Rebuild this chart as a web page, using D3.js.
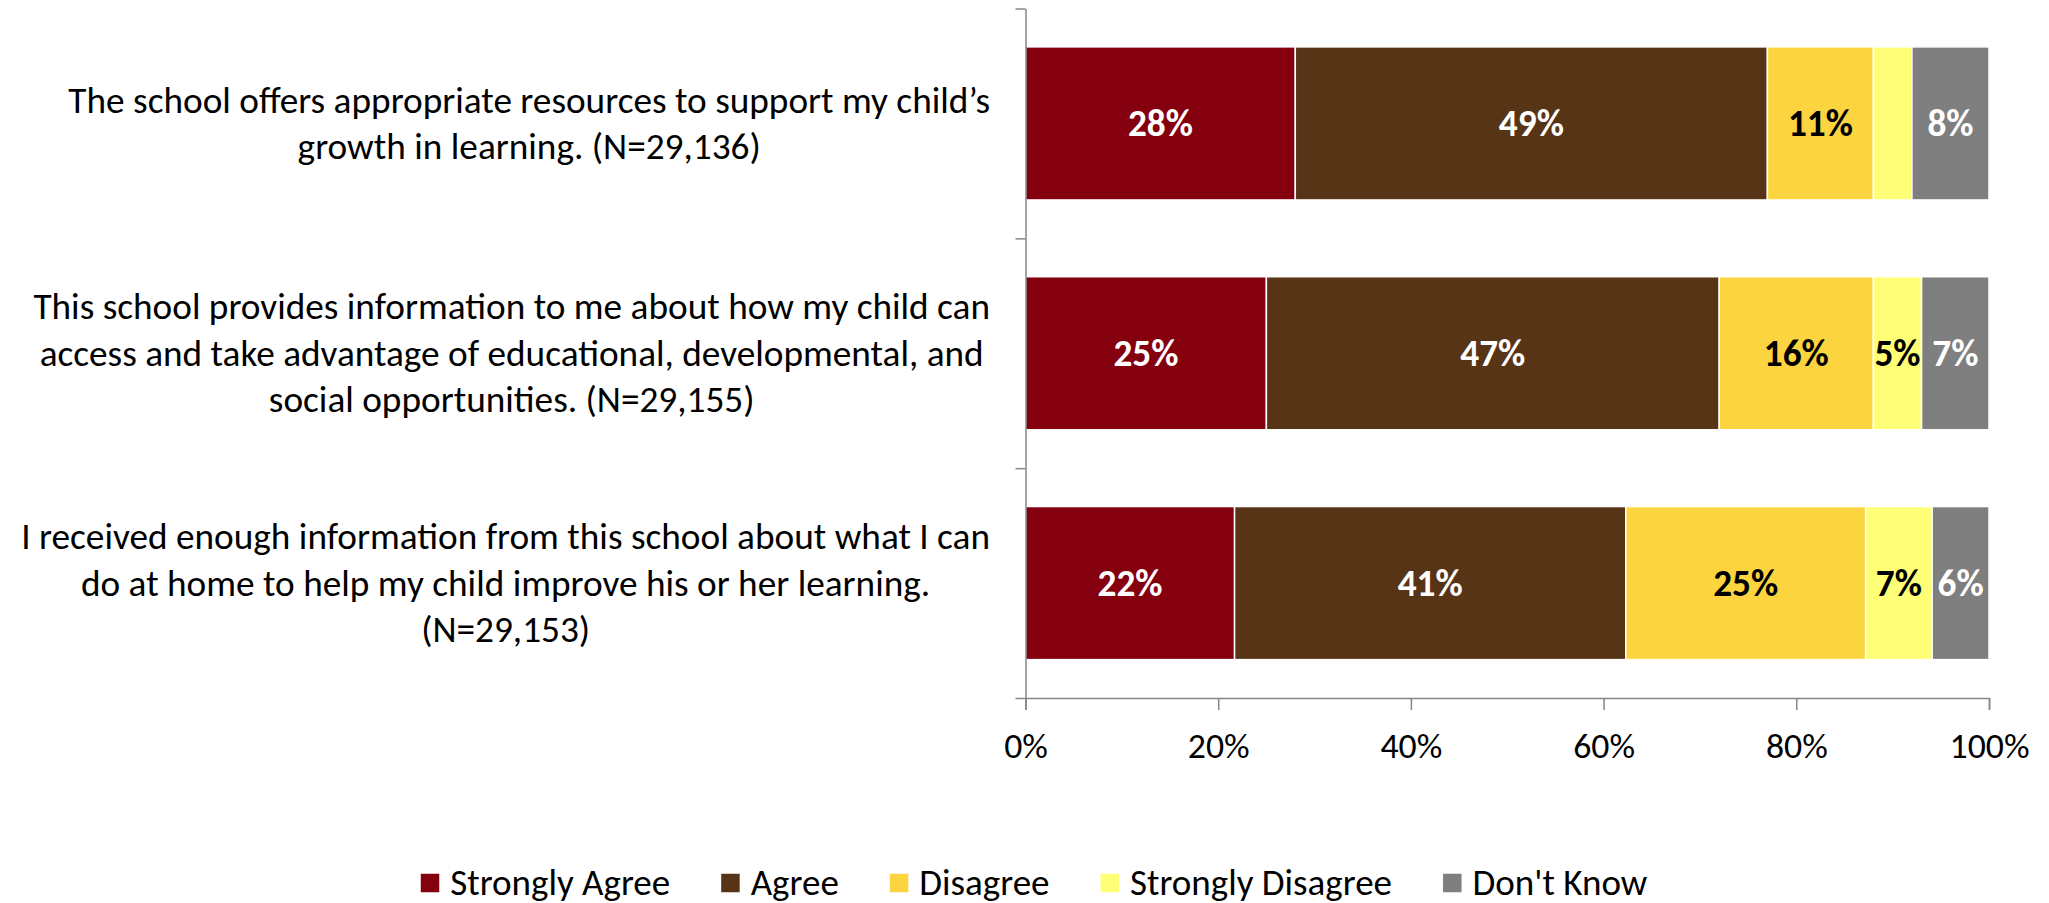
<!DOCTYPE html>
<html>
<head>
<meta charset="utf-8">
<script src="https://cdn.jsdelivr.net/npm/d3@7"></script>
<style>
  html, body { margin: 0; padding: 0; background: #ffffff; }
  svg { display: block; }
</style>
</head>
<body>
<svg id="chart" width="2049" height="903"></svg>
<script>
// ---------------- data ----------------
const categories = [
  "The school offers appropriate resources to support my child’s\ngrowth in learning. (N=29,136)",
  "This school provides information to me about how my child can\naccess and take advantage of educational, developmental, and\nsocial opportunities. (N=29,155)",
  "I received enough information from this school about what I can\ndo at home to help my child improve his or her learning.\n(N=29,153)"
];
const seriesNames = ["Strongly Agree", "Agree", "Disagree", "Strongly Disagree", "Don't Know"];
const stronglyAgree    = [28, 25, 21.7];
const agree            = [49, 47, 40.6];
const disagree         = [11, 16, 24.9];
const stronglyDisagree = [4, 5, 6.9];
const dontKnow         = [8, 7, 5.9];
const xTicks = [0, 20, 40, 60, 80, 100];

// ---------------- style ----------------
const colors = ["#85000E", "#573416", "#FCD440", "#FFFF77", "#7F7F7F"];
const labelColors = ["#ffffff", "#ffffff", "#000000", "#000000", "#ffffff"];
const FONT = "Carlito, Calibri, Lato, 'Liberation Sans', sans-serif";
const axisColor = "#868686";

const svg = d3.select("#chart");

// helper: fit font size so a reference string gets a target width
function fitSize(str, target, weight) {
  const t = svg.append("text").attr("font-family", FONT).attr("font-size", 100)
    .attr("font-weight", weight || "normal").text(str);
  const w = t.node().getComputedTextLength();
  t.remove();
  return 100 * target / w;
}
const catSize = fitSize("The school offers appropriate resources to support my child’s", 922);
const tickSize = fitSize("100%", 80);
const legSize = fitSize("Strongly Agree", 220);
const dataSize = fitSize("49%", 65, "bold");

function textWidth(str, size, weight) {
  const t = svg.append("text").attr("font-family", FONT).attr("font-size", size)
    .attr("font-weight", weight || "normal").text(str);
  const w = t.node().getComputedTextLength();
  t.remove();
  return w;
}

// ---------------- layout ----------------
const plot = { left: 1025.5, right: 1989, top: 8.5, bottom: 698 };
const x = d3.scaleLinear().domain([0, 100]).range([plot.left, plot.right]);
const pad = 0.334;
const y = d3.scaleBand().domain(d3.range(categories.length))
  .range([plot.top, plot.bottom]).paddingInner(pad).paddingOuter(pad / 2);
const yEdge = d3.scaleLinear().domain([0, categories.length]).range([plot.top, plot.bottom]);

// stacked data
const seriesValues = [stronglyAgree, agree, disagree, stronglyDisagree, dontKnow];
const rows = categories.map((c, i) => {
  const o = { idx: i };
  seriesNames.forEach((s, j) => { o[s] = seriesValues[j][i]; });
  return o;
});
const stack = d3.stack().keys(seriesNames)(rows);

// bars
const layers = svg.append("g").selectAll("g").data(stack).join("g")
  .attr("fill", (d, j) => colors[j]);
layers.selectAll("rect").data(d => d).join("rect")
  .attr("x", d => x(d[0]))
  .attr("width", d => x(d[1]) - x(d[0]))
  .attr("y", d => y(d.data.idx))
  .attr("height", y.bandwidth())
  .attr("stroke", "#ffffff")
  .attr("stroke-width", 1.5);

// data labels
stack.forEach((layer, j) => {
  layer.forEach(d => {
    const v = d[1] - d[0];
    const txt = Math.round(v) + "%";
    const segW = x(d[1]) - x(d[0]);
    if (textWidth(txt, dataSize, "bold") > segW) return;
    svg.append("text")
      .attr("x", (x(d[0]) + x(d[1])) / 2)
      .attr("y", y(d.data.idx) + y.bandwidth() / 2)
      .attr("text-anchor", "middle")
      .attr("dominant-baseline", "central")
      .attr("font-family", FONT)
      .attr("font-weight", "bold")
      .attr("font-size", dataSize)
      .attr("fill", labelColors[j])
      .text(txt);
  });
});

// x axis
const xAxis = svg.append("g")
  .attr("transform", `translate(0,${plot.bottom})`)
  .call(d3.axisBottom(x).tickValues(xTicks).tickFormat(d => d + "%").tickSize(12).tickSizeOuter(12).tickPadding(18));
xAxis.select(".domain").attr("stroke", axisColor).attr("stroke-width", 1.5);
xAxis.selectAll(".tick line").attr("stroke", axisColor).attr("stroke-width", 1.5);
xAxis.selectAll(".tick text")
  .attr("font-family", FONT).attr("font-size", tickSize).attr("fill", "#000")
  .attr("dy", null).attr("y", 48).attr("dominant-baseline", "central");

// y axis (ticks at category boundaries)
const yAxis = svg.append("g")
  .attr("transform", `translate(${plot.left},0)`)
  .call(d3.axisLeft(yEdge).tickValues(d3.range(categories.length + 1)).tickFormat("").tickSize(10).tickSizeOuter(0));
yAxis.select(".domain").attr("stroke", axisColor).attr("stroke-width", 1.5);
yAxis.selectAll(".tick line").attr("stroke", axisColor).attr("stroke-width", 1.5);

// category labels
const lineH = 46.5;
const labelRight = 990;
categories.forEach((c, i) => {
  const lines = c.split("\n");
  const maxW = d3.max(lines, l => textWidth(l, catSize));
  const cx = labelRight - maxW / 2;
  const cy = y(i) + y.bandwidth() / 2;
  const t = svg.append("text")
    .attr("text-anchor", "middle")
    .attr("font-family", FONT)
    .attr("font-size", catSize)
    .attr("fill", "#000");
  lines.forEach((l, k) => {
    t.append("tspan")
      .attr("x", cx)
      .attr("y", cy + (k - (lines.length - 1) / 2) * lineH)
      .attr("dominant-baseline", "central")
      .text(l);
  });
});

// legend
const legY = 882;
const sq = 18.5, sqGap = 11, itemGap = 51;
const itemWidths = seriesNames.map(s => sq + sqGap + textWidth(s, legSize));
const totalW = d3.sum(itemWidths) + itemGap * (seriesNames.length - 1);
let lx = 1034 - totalW / 2;
const legend = svg.append("g");
seriesNames.forEach((s, j) => {
  legend.append("rect")
    .attr("x", lx).attr("y", legY - sq / 2 + 1)
    .attr("width", sq).attr("height", sq)
    .attr("fill", colors[j]);
  legend.append("text")
    .attr("x", lx + sq + sqGap).attr("y", legY)
    .attr("dominant-baseline", "central")
    .attr("font-family", FONT).attr("font-size", legSize).attr("fill", "#000")
    .text(s);
  lx += itemWidths[j] + itemGap;
});
</script>
</body>
</html>
